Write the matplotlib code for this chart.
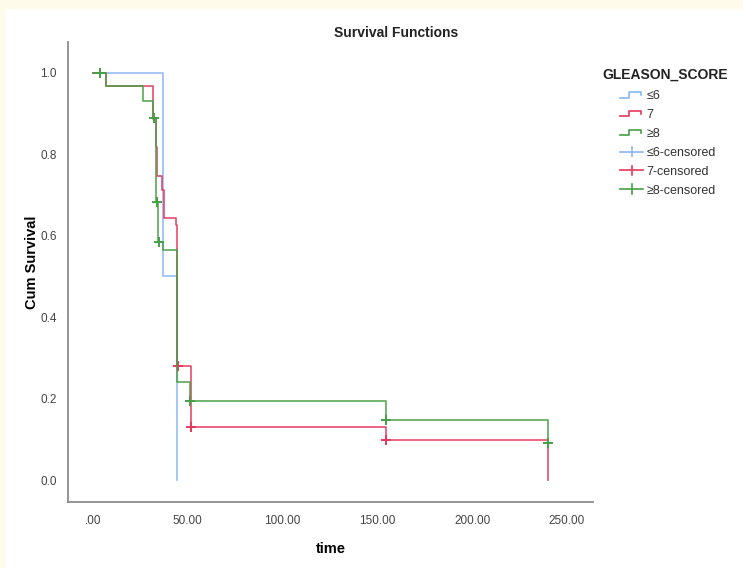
import numpy as np
import matplotlib
matplotlib.use('Agg')
import matplotlib.pyplot as plt
from matplotlib.lines import Line2D
from matplotlib.patches import Rectangle
from matplotlib.legend_handler import HandlerBase

plt.rcParams['font.family'] = ['Liberation Sans Narrow', 'Liberation Sans', 'DejaVu Sans']

## Kaplan-Meier steps per group: event times and survival after each event
groups = ['≤6', '7', '≥8']

t_le6 = [36.9, 44.5]
s_le6 = [0.50, 0.0]
c_le6 = []

t_7 = [6.7, 31.6, 33.4, 34.0, 36.6, 37.4, 43.8, 44.5, 51.6, 154.5, 240.0]
s_7 = [0.968, 0.887, 0.818, 0.747, 0.713, 0.644, 0.627, 0.28, 0.13, 0.098, 0.0]
c_7 = [44.7, 51.7, 154.6]

t_ge8 = [6.7, 26.4, 31.6, 33.4, 34.1, 37.0, 44.5, 51.2, 154.5, 240.0]
s_ge8 = [0.968, 0.931, 0.89, 0.683, 0.585, 0.565, 0.24, 0.194, 0.147, 0.09]
c_ge8 = [3.7, 32.0, 33.6, 34.7, 51.4, 154.7, 240.0]

xticks = [0, 50, 100, 150, 200, 250]
xtick_labels = ['.00', '50.00', '100.00', '150.00', '200.00', '250.00']
yticks = [0.0, 0.2, 0.4, 0.6, 0.8, 1.0]
ytick_labels = ['0.0', '0.2', '0.4', '0.6', '0.8', '1.0']

colors = ['#8ab6f4', '#e8365c', '#45a045']


def surv_at(times, surv, t):
    """survival value of the step curve at time t"""
    idx = np.searchsorted(times, t, side='right')
    return 1.0 if idx == 0 else surv[idx - 1]


class StepHandler(HandlerBase):
    def create_artists(self, legend, orig, xd, yd, w, h, fontsize, trans):
        xs = np.array([0, 0.38, 0.38, 0.88, 0.88]) * w - xd
        ys = np.array([0.2, 0.2, 0.85, 0.85, 0.45]) * h - yd
        ln = Line2D(xs, ys, color=orig.get_color(), lw=1.2, transform=trans)
        return [ln]


class CensorHandler(HandlerBase):
    def create_artists(self, legend, orig, xd, yd, w, h, fontsize, trans):
        c = orig.get_color()
        h1 = Line2D(np.array([0, 0.95]) * w - xd, np.array([0.5, 0.5]) * h - yd,
                    color=c, lw=1.2, transform=trans)
        v1 = Line2D(np.array([0.5, 0.5]) * w - xd, np.array([-0.05, 1.05]) * h - yd,
                    color=c, lw=1.2, transform=trans)
        return [h1, v1]


fig = plt.figure(figsize=(7.43, 5.68), dpi=100)
fig.patch.set_facecolor('#fffbea')
fig.patches.append(Rectangle((6 / 743, 0), 1, 1 - 9 / 568, transform=fig.transFigure,
                             facecolor='white', edgecolor='none', zorder=-5))

ax = fig.add_axes([68 / 743, 1 - 502 / 568, (593 - 68) / 743, (502 - 42) / 568])
ax.set_facecolor('none')

curves = [(t_le6, s_le6, c_le6), (t_7, s_7, c_7), (t_ge8, s_ge8, c_ge8)]
step_handles = []
cens_handles = []
for (tt, ss, cc), col, name in zip(curves, colors, groups):
    x = np.concatenate([[0.0], tt])
    y = np.concatenate([[1.0], ss])
    ln, = ax.step(x, y, where='post', color=col, lw=1.2, alpha=0.9)
    step_handles.append(ln)
    for t in cc:
        ax.plot(t, surv_at(tt, ss, t), marker='+', ms=7.5, mew=1.4, color=col, ls='none')
    cens_handles.append(Line2D([], [], color=col))

ax.set_xlim(-13.2, 263.7)
ax.set_ylim(-0.054, 1.076)
ax.set_xticks(xticks)
ax.set_xticklabels(xtick_labels)
ax.set_yticks(yticks)
ax.set_yticklabels(ytick_labels)
ax.tick_params(length=0, labelsize=8.5, labelcolor='#444444')
ax.tick_params(axis='y', pad=8)
ax.tick_params(axis='x', pad=9)
for s in ['top', 'right']:
    ax.spines[s].set_visible(False)
for s in ['left', 'bottom']:
    ax.spines[s].set_color('#8c8c8c')
    ax.spines[s].set_linewidth(1.3)

ax.set_xlabel('time', fontsize=10.5, fontweight='bold')
ax.set_ylabel('Cum Survival', fontsize=10.5, fontweight='bold')
ax.xaxis.set_label_coords(0.501, -0.102)
ax.yaxis.set_label_coords(-0.069, 0.52)
ax.xaxis.label.set_va('center')
ax.yaxis.label.set_va('center')

fig.text(396 / 743, 1 - 33 / 568, 'Survival Functions', ha='center', va='center',
         fontsize=10, fontweight='bold', color='#222222')
fig.text(602 / 743, 1 - 75 / 568, 'GLEASON_SCORE', ha='left', va='center',
         fontsize=10, fontweight='bold', color='#222222')

labels = groups + [g + '-censored' for g in groups]
hmap = {h: StepHandler() for h in step_handles}
hmap.update({h: CensorHandler() for h in cens_handles})
leg = fig.legend(step_handles + cens_handles, labels, handler_map=hmap,
                 loc='upper left', bbox_to_anchor=(614 / 743, 1 - 84 / 568),
                 frameon=False, fontsize=9, handlelength=1.9, handletextpad=0.2,
                 labelspacing=0.55, borderpad=0)
for txt in leg.get_texts():
    txt.set_color('#333333')

fig.savefig('out.png', dpi=100, facecolor=fig.get_facecolor())
